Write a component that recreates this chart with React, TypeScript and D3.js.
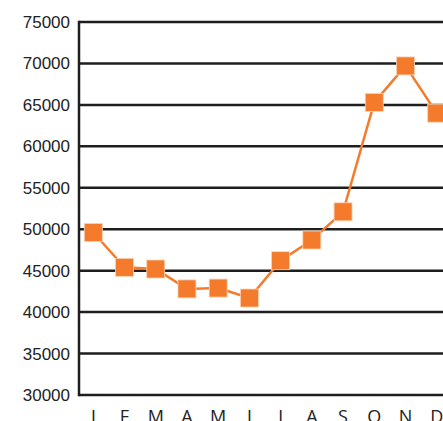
import React from "react";
import * as d3 from "d3";

const months = ["Jan", "Feb", "Mar", "Apr", "May", "Jun", "Jul", "Aug", "Sep", "Oct", "Nov", "Dec"];
const monthLabels = ["J", "F", "M", "A", "M", "J", "J", "A", "S", "O", "N", "D"];
const values = [49600, 45400, 45200, 42800, 42900, 41700, 46200, 48700, 52100, 65300, 69700, 64000];
const yTicks = [30000, 35000, 40000, 45000, 50000, 55000, 60000, 65000, 70000, 75000];

const W = 443;
const H = 421;
const axisX = 79;

export default function App() {
  const x = d3.scalePoint<string>().domain(months).range([93.3, 436.7]);
  const y = d3.scaleLinear().domain([30000, 75000]).range([395, 22]);
  const line = d3
    .line<number>()
    .x((_, i) => x(months[i]) as number)
    .y((d) => y(d));
  const ms = 18;
  return (
    <div style={{ position: "absolute", left: 0, top: 0 }}>
      <svg width={W} height={H} style={{ display: "block" }}>
        <rect x={0} y={0} width={W} height={H} fill="#fff" />
        {yTicks.map((t) => (
          <g key={t}>
            <line x1={axisX} x2={W} y1={y(t)} y2={y(t)} stroke="#1e1e1e" strokeWidth={2.5} />
            <text
              x={70}
              y={y(t)}
              dy="0.35em"
              textAnchor="end"
              fontFamily="Liberation Sans, Arial, sans-serif"
              fontSize={17}
              fill="#222"
            >
              {t}
            </text>
          </g>
        ))}
        <line x1={axisX} x2={axisX} y1={y(75000) - 1.25} y2={y(30000) + 1.25} stroke="#1e1e1e" strokeWidth={2.5} />
        {months.map((m, i) => (
          <text
            key={m}
            x={x(m)}
            y={422.5}
            textAnchor="middle"
            fontFamily="Open Sans, DejaVu Sans, sans-serif"
            fontSize={18}
            fill="#222"
          >
            {monthLabels[i]}
          </text>
        ))}
        <path d={line(values) || ""} fill="none" stroke="#F37B2B" strokeWidth={2.5} />
        {values.map((v, i) => (
          <rect
            key={months[i]}
            x={(x(months[i]) as number) - ms / 2}
            y={y(v) - ms / 2}
            width={ms}
            height={ms}
            fill="#F37B2B"
            stroke="#fbd2b5"
            strokeWidth={0.8}
          />
        ))}
      </svg>
    </div>
  );
}
